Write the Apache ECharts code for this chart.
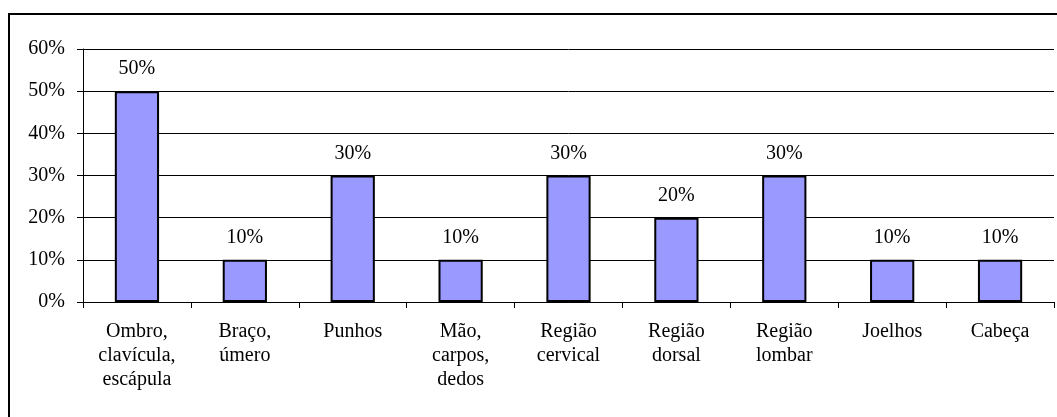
<!DOCTYPE html>
<html>
<head>
<meta charset="utf-8">
<script src="https://cdn.jsdelivr.net/npm/echarts@6/dist/echarts.min.js"></script>
<style>
  html, body { margin: 0; padding: 0; background: #fff; overflow: hidden; }
  .frame {
    position: absolute; left: 8px; top: 13px;
    width: 1200px; height: 600px;
    border: 2px solid #000;
  }
  #chart { position: absolute; left: 0; top: 0; width: 1057px; height: 417px; }
</style>
</head>
<body>
<div class="frame"></div>
<div id="chart"></div>
<script>
  // categorias (partes do corpo)
  var categories = [
    'Ombro,\nclavícula,\nescápula',
    'Braço,\número',
    'Punhos',
    'Mão,\ncarpos,\ndedos',
    'Região\ncervical',
    'Região\ndorsal',
    'Região\nlombar',
    'Joelhos',
    'Cabeça'
  ]
  var values = [50, 10, 30, 10, 30, 20, 30, 10, 10]
  var yTicks = { min: 0, max: 60, interval: 10 }

  var font = 'Liberation Serif, Times New Roman, serif'
  var chart = echarts.init(document.getElementById('chart'))
  chart.setOption({
    animation: false,
    grid: { left: 83, right: 3, top: 49, bottom: 115, containLabel: false },
    xAxis: {
      type: 'category',
      data: categories,
      boundaryGap: true,
      axisLine: { lineStyle: { color: '#000', width: 1 } },
      axisTick: { show: true, length: 6, lineStyle: { color: '#000' } },
      axisLabel: {
        interval: 0,
        margin: 18,
        color: '#000',
        fontFamily: font,
        fontSize: 20,
        lineHeight: 24
      },
      splitLine: { show: false }
    },
    yAxis: {
      type: 'value',
      min: yTicks.min,
      max: yTicks.max,
      interval: yTicks.interval,
      axisLine: { show: true, lineStyle: { color: '#000', width: 1 } },
      axisTick: { show: true, length: 6, lineStyle: { color: '#000' } },
      axisLabel: {
        margin: 18,
        color: '#000',
        fontFamily: font,
        fontSize: 20,
        formatter: '{value}%'
      },
      splitLine: { show: true, lineStyle: { color: '#000', width: 1 } }
    },
    series: [{
      type: 'bar',
      data: values,
      barWidth: '41%',
      itemStyle: { color: '#9999FF', borderColor: '#000', borderWidth: 2 },
      label: {
        show: true,
        position: 'top',
        distance: 12,
        color: '#000',
        fontFamily: font,
        fontSize: 20,
        formatter: '{c}%'
      }
    }]
  })
</script>
</body>
</html>
